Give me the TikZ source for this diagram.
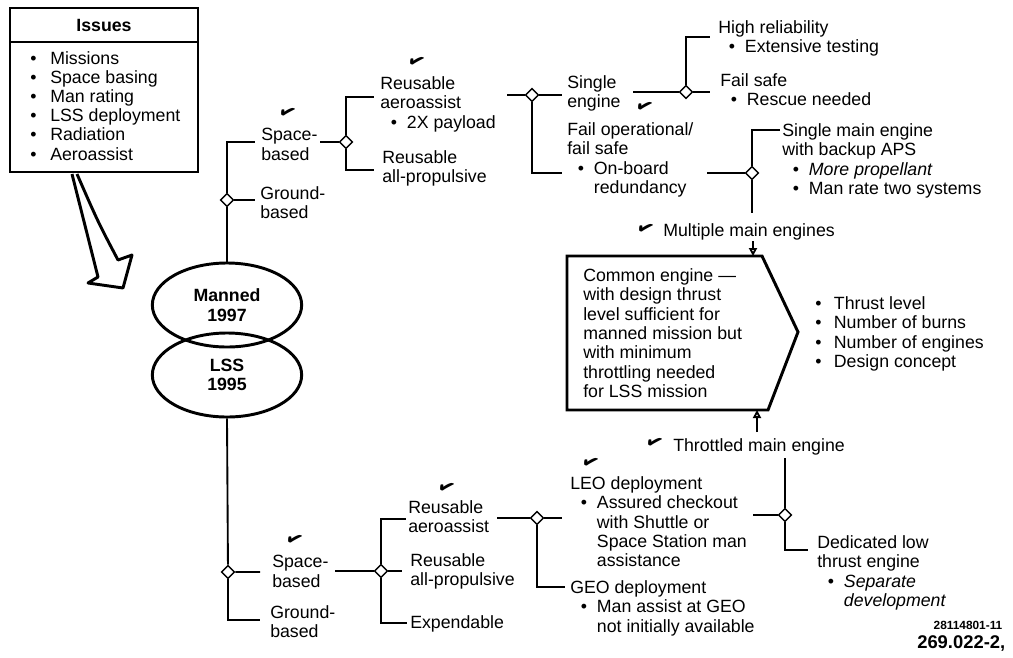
\documentclass[tikz,border=0pt]{standalone}
\usepackage{fontspec}
\setmainfont{Liberation Sans}
\newfontfamily\symfont{DejaVu Sans}
\usetikzlibrary{shapes.geometric,arrows.meta}

\tikzset{
  txt/.style={anchor=north west, align=left, inner sep=0pt, font=\fontsize{13.3}{14.6}\selectfont},
  knot/.style={shape=diamond, draw=black, fill=white, line width=1pt, inner sep=0pt, minimum width=10pt, minimum height=10pt},
  wire/.style={line width=1.4pt},
  frame/.style={line width=2.2pt, line join=miter},
  era/.style={shape=ellipse, draw=black, line width=2.2pt, minimum width=112pt, minimum height=63pt, inner sep=0pt, align=center, font=\bfseries\fontsize{13.3}{14.6}\selectfont},
  tick/.style={inner sep=0pt, rotate=-22, font=\symfont\fontsize{15}{15}\selectfont}
}
\newcommand{\bul}[1][12pt]{\makebox[#1][l]{\textbullet}}
\newcommand{\ind}{\hspace*{8pt}}

\begin{document}
\begin{tikzpicture}[x=0.75pt, y=-0.75pt]
\useasboundingbox (0,0) rectangle (1013,657);

% issues box and hollow arrow
\draw[frame] (10,8) rectangle (198,172);
\draw[frame] (10,42) -- (198,42);
\node[font=\bfseries\fontsize{13.3}{14.6}\selectfont] (issT) at (104,25) {Issues};
\node[txt, font=\fontsize{13.3}{14.4}\selectfont] (issL) at (30,51) {\bul[15pt]Missions\\ \bul[15pt]Space basing\\ \bul[15pt]Man rating\\ \bul[15pt]LSS deployment\\ \bul[15pt]Radiation\\ \bul[15pt]Aeroassist};
\draw[frame, line join=round] (72,174) -- (98,277) -- (88,283) -- (123,288) -- (132,255) -- (118,260) .. controls (98,222) .. (77,174);

% missions
\node[era] (manned) at (227,305) {Manned\\1997};
\node[era] (lss) at (227,375) {LSS\\1995};

% manned branch
\node[knot] (dU) at (227,200) {};
\coordinate (sU) at (255,142);
\coordinate (gU) at (255,200);
\draw[wire] (manned.north) -- (dU);
\draw[wire] (dU) |- (sU);
\draw[wire] (dU) -- (gU);
\node[txt] (spaceU) at (261,128) {Space-\\based};
\node[txt] (groundU) at (260,186) {Ground-\\based};
\node[tick] (k1) at (288,113) {✔};

\node[knot] (d1) at (346,142) {};
\coordinate (c1) at (320,142);
\coordinate (e1a) at (374,97);
\coordinate (e1b) at (374,170);
\draw[wire] (c1) -- (d1);
\draw[wire] (d1) |- (e1a);
\draw[wire] (d1) |- (e1b);
\node[txt] (aeroU) at (380,76) {Reusable\\aeroassist\\\ind\bul 2X payload};
\node[txt] (allpropU) at (382,150) {Reusable\\all-propulsive};
\node[tick] (k2) at (417,62) {✔};

\node[knot] (d2) at (532,95) {};
\coordinate (c2) at (507,95);
\coordinate (e2a) at (562,95);
\coordinate (e2b) at (562,173);
\draw[wire] (c2) -- (d2) -- (e2a);
\draw[wire] (d2) |- (e2b);
\node[txt] (single) at (567,75) {Single\\engine};
\node[txt] (failop) at (567,122) {Fail operational/\\fail safe\\\ind\bul On-board\\\ind\hspace*{12pt}redundancy};
\node[tick] (k3) at (645,107) {✔};

\node[knot] (d3) at (686,92) {};
\coordinate (c3) at (633,92);
\coordinate (e3a) at (710,37);
\coordinate (e3b) at (710,92);
\draw[wire] (c3) -- (d3) -- (e3b);
\draw[wire] (d3) |- (e3a);
\node[txt] (highrel) at (718,20) {High reliability\\\ind\bul Extensive testing};
\node[txt] (failsafe) at (720,73) {Fail safe\\\ind\bul Rescue needed};

\node[knot] (d4) at (752,173) {};
\coordinate (c4) at (707,173);
\coordinate (e4a) at (780,130);
\coordinate (e4b) at (752,213);
\draw[wire] (c4) -- (d4) -- (e4b);
\draw[wire] (d4) |- (e4a);
\node[txt] (singlemain) at (782,123) {Single main engine\\with backup APS\\\ind\bul\textit{More propellant}\\\ind\bul Man rate two systems};
\node[tick] (k4) at (646,229) {✔};
\node[txt] (multi) at (663,223) {Multiple main engines};

% common engine
\coordinate (bxT) at (753,256);
\coordinate (bxB) at (757,410);
\coordinate (m1) at (753,241);
\coordinate (m2) at (757,432);
\draw[frame] (567,256) -- (762,256) -- (798,332) -- (768,410) -- (567,410) -- cycle;
\node[txt] (common) at (583,268) {Common engine —\\with design thrust\\level sufficient for\\manned mission but\\with minimum\\throttling needed\\for LSS mission};
\node[txt] (factors) at (815,296) {\bul[14pt]Thrust level\\ \bul[14pt]Number of burns\\ \bul[14pt]Number of engines\\ \bul[14pt]Design concept};
\draw[wire, -{Triangle[open, length=6pt, width=6pt]}] (m1) -- (bxT);
\draw[wire, -{Triangle[open, length=6pt, width=6pt]}] (m2) -- (bxB);
\node[tick] (k5) at (655,443) {✔};
\node[txt] (throttled) at (673,438) {Throttled main engine};

\node[knot] (d5) at (785,515) {};
\coordinate (c5) at (785,458);
\coordinate (e5a) at (753,515);
\coordinate (e5b) at (808,550);
\draw[wire] (c5) -- (d5) -- (e5a);
\draw[wire] (d5) |- (e5b);
\node[txt] (dedicated) at (817,535) {Dedicated low\\thrust engine\\\ind\bul\textit{Separate}\\\ind\hspace*{12pt}\textit{development}};

% LSS branch
\node[knot] (dL) at (228,572) {};
\coordinate (sL) at (260,572);
\coordinate (gL) at (260,620);
\draw[wire] (lss.south) -- (dL) -- (sL);
\draw[wire] (dL) |- (gL);
\node[txt] (spaceL) at (272,555) {Space-\\based};
\node[txt] (groundL) at (270,605) {Ground-\\based};
\node[tick] (k6) at (295,540) {✔};

\node[knot] (d6) at (381,571) {};
\coordinate (c6) at (335,571);
\coordinate (e6a) at (406,519);
\coordinate (e6b) at (402,571);
\coordinate (e6c) at (407,623);
\draw[wire] (c6) -- (d6) -- (e6b);
\draw[wire] (d6) |- (e6a);
\draw[wire] (d6) |- (e6c);
\node[txt] (aeroL) at (408,500) {Reusable\\aeroassist};
\node[txt] (allpropL) at (410,553) {Reusable\\all-propulsive};
\node[txt] (expend) at (410,615) {Expendable};
\node[tick] (k7) at (447,488) {✔};

\node[knot] (d7) at (537,518) {};
\coordinate (c7) at (497,518);
\coordinate (e7a) at (562,518);
\coordinate (e7b) at (565,587);
\draw[wire] (c7) -- (d7) -- (e7a);
\draw[wire] (d7) |- (e7b);
\node[txt] (leo) at (570,476) {LEO deployment\\\ind\bul Assured checkout\\\ind\hspace*{12pt}with Shuttle or\\\ind\hspace*{12pt}Space Station man\\\ind\hspace*{12pt}assistance};
\node[tick] (k8) at (591,463) {✔};
\node[txt] (geo) at (570,580) {GEO deployment\\\ind\bul Man assist at GEO\\\ind\hspace*{12pt}not initially available};

% figure numbers
\node[font=\bfseries\fontsize{8.9}{9}\selectfont] (fig1) at (968,625) {28114801-11};
\node[anchor=west, inner sep=0pt, font=\bfseries\fontsize{13.8}{14}\selectfont] (fig2) at (917,643) {269.022-2,};
\end{tikzpicture}
\end{document}
